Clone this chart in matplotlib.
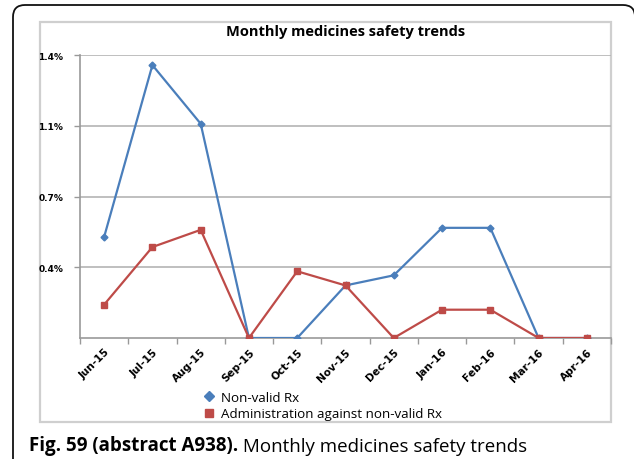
import matplotlib
matplotlib.use("Agg")
import matplotlib.pyplot as plt
from matplotlib.patches import FancyBboxPatch, Rectangle
from matplotlib.lines import Line2D
from matplotlib.ticker import FixedLocator
from matplotlib.transforms import ScaledTranslation

# monthly rates (%)
months = ["Jun-15", "Jul-15", "Aug-15", "Sep-15", "Oct-15", "Nov-15",
          "Dec-15", "Jan-16", "Feb-16", "Mar-16", "Apr-16"]
non_valid = [0.50, 1.35, 1.06, 0.0, 0.0, 0.26, 0.31, 0.545, 0.545, 0.0, 0.0]
admin_non_valid = [0.165, 0.45, 0.535, 0.0, 0.33, 0.26, 0.0, 0.14, 0.14, 0.0, 0.0]
y_ticks = [0.35, 0.70, 1.05, 1.40]
y_labels = ["0.4%", "0.7%", "1.1%", "1.4%"]

BLUE = "#4a7ebb"
RED = "#be4b48"
GRID = "#b4b4b4"

W, H = 634, 460
fig = plt.figure(figsize=(W / 100, H / 100), dpi=100)


def px(x, y):
    """pixel position (from top-left) -> figure fraction"""
    return x / W, 1 - y / H


# outer black box with rounded corners (runs off the bottom)
outer = FancyBboxPatch((0.13, -0.5), 6.22, 4.54 + 0.5,
                       boxstyle="round,pad=0,rounding_size=0.12",
                       transform=fig.dpi_scale_trans, fill=False,
                       edgecolor="#111111", linewidth=1.3, clip_on=False)
fig.patches.append(outer)

# light gray chart frame
x0, y0 = px(40, 423)
x1, y1 = px(611, 23)
fig.patches.append(Rectangle((x0, y0), x1 - x0, y1 - y0, transform=fig.transFigure,
                             fill=False, edgecolor="#cfcfcf", linewidth=1.6, zorder=-1))

# plot area
l, b = px(80, 339)
r, t = px(611, 56)
ax = fig.add_axes([l, b, r - l, t - b])
ax.patch.set_visible(False)

xs = range(len(months))
ax.plot(xs, non_valid, color=BLUE, lw=1.6, marker="D", ms=3.5, zorder=3)
ax.plot(xs, admin_non_valid, color=RED, lw=1.6, marker="s", ms=4, zorder=3)

ax.set_xlim(-0.5, len(months) - 0.5)
ax.set_ylim(0, 1.4)
ax.set_yticks(y_ticks)
ax.set_yticklabels(y_labels, fontsize=6.5, fontweight="bold", family="DejaVu Sans")
ax.yaxis.grid(True, color=GRID, lw=1.2)
ax.set_axisbelow(True)

ax.set_xticks(list(xs))
ax.set_xticklabels(months, rotation=45, ha="right", rotation_mode="anchor",
                   fontsize=7.6, fontweight="bold", family="DejaVu Sans")
shift = ScaledTranslation(9 / 100, -3 / 100, fig.dpi_scale_trans)
for lab in ax.get_xticklabels():
    lab.set_transform(lab.get_transform() + shift)
ax.xaxis.set_minor_locator(FixedLocator([i - 0.5 for i in range(len(months) + 1)]))
ax.tick_params(axis="x", which="major", length=0, pad=6)
ax.tick_params(axis="x", which="minor", length=4, color="#999999", width=1)
ax.tick_params(axis="y", length=4, color="#999999", width=1, pad=8)

for side in ["top", "right"]:
    ax.spines[side].set_visible(False)
for side in ["left", "bottom"]:
    ax.spines[side].set_color("#9a9a9a")
    ax.spines[side].set_linewidth(1.2)

# chart title
tx, ty = px(346, 32)
fig.text(tx, ty, "Monthly medicines safety trends", ha="center", va="center",
         fontsize=10.5, fontweight="bold", family="Open Sans")

# legend with markers only
handles = [Line2D([], [], color=BLUE, marker="D", ls="none", ms=5),
           Line2D([], [], color=RED, marker="s", ms=5.5, ls="none")]
lx, ly = px(204, 392)
fig.legend(handles, ["Non-valid Rx", "Administration against non-valid Rx"],
           loc="upper left", bbox_to_anchor=(lx, ly), frameon=False,
           prop={"family": "Open Sans", "size": 9.6}, handlelength=0.8,
           handletextpad=0.45, labelspacing=0.25, borderpad=0, borderaxespad=0)

# figure caption
cx, cy = px(29, 451)
cap = fig.text(cx, cy, "Fig. 59 (abstract A938).", ha="left", va="baseline",
               fontsize=13.5, fontweight="bold", family="Open Sans")
ax.annotate(" Monthly medicines safety trends", xy=(1, 0), xycoords=cap,
            ha="left", va="bottom", fontsize=13.5, family="Open Sans",
            annotation_clip=False)

fig.savefig("out.png", dpi=100)
